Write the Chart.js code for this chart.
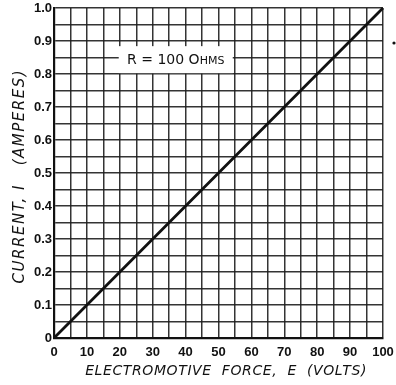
<!DOCTYPE html>
<html>
<head>
<meta charset="utf-8">
<script src="https://cdn.jsdelivr.net/npm/chart.js@4/dist/chart.umd.min.js"></script>
<style>
  html, body { margin: 0; padding: 0; background: #fff; }
  #wrap { width: 396px; height: 385px; }
</style>
</head>
<body>
<div id="wrap"><canvas id="c" width="396" height="385"></canvas></div>
<script>
// Ohm's law: current through a 100-ohm resistor versus applied EMF
const voltsE = [0, 10, 20, 30, 40, 50, 60, 70, 80, 90, 100];
const ampsI  = [0, 0.1, 0.2, 0.3, 0.4, 0.5, 0.6, 0.7, 0.8, 0.9, 1.0];
const xTickLabels = ['0', '10', '20', '30', '40', '50', '60', '70', '80', '90', '100'];
const yTickLabels = ['0', '0.1', '0.2', '0.3', '0.4', '0.5', '0.6', '0.7', '0.8', '0.9', '1.0'];
const resistanceNote = { main: 'R = 100 O', small: 'HMS', atVolts: 37, atAmps: 0.845 };

const ink = '#111';
const gridInk = 'rgba(30,30,30,0.9)';
const tickFont = { family: 'Liberation Sans', weight: 'bold', size: 13 };

// draw an axis title with hand-lettered spacing between the characters
function spacedTitle(spacing) {
  return function (s) {
    if (s._spaced) return;
    s._spaced = true;
    const draw = s.drawTitle;
    s.drawTitle = function () {
      this.ctx.save();
      this.ctx.letterSpacing = spacing;
      draw.call(this);
      this.ctx.restore();
    };
  };
}

// white box with the resistance value, plus the stray dot by the top-right corner
const notePlugin = {
  id: 'note',
  afterDatasetsDraw(chart) {
    const { ctx, scales: { x, y } } = chart;
    const cx = x.getPixelForValue(resistanceNote.atVolts);
    const cy = y.getPixelForValue(resistanceNote.atAmps);
    ctx.save();
    ctx.fillStyle = '#fff';
    ctx.fillRect(cx - 57, cy - 13, 114, 27);
    ctx.fillStyle = ink;
    ctx.textBaseline = 'alphabetic';
    ctx.font = '14px "DejaVu Sans"';
    const w1 = ctx.measureText(resistanceNote.main).width;
    ctx.font = '11px "DejaVu Sans"';
    const w2 = ctx.measureText(resistanceNote.small).width;
    const sx = cx - (w1 + w2) / 2;
    ctx.font = '14px "DejaVu Sans"';
    ctx.fillText(resistanceNote.main, sx, cy + 5);
    ctx.font = '11px "DejaVu Sans"';
    ctx.fillText(resistanceNote.small, sx + w1, cy + 5);
    ctx.beginPath();
    ctx.arc(394, 43, 1.6, 0, Math.PI * 2);
    ctx.fill();
    ctx.restore();
  }
};

new Chart(document.getElementById('c'), {
  type: 'line',
  data: {
    datasets: [{
      data: voltsE.map((v, i) => ({ x: v, y: ampsI[i] })),
      borderColor: ink,
      borderWidth: 2.8,
      pointRadius: 0,
      tension: 0,
      clip: false
    }]
  },
  options: {
    responsive: false,
    animation: false,
    devicePixelRatio: 1,
    layout: { padding: { left: 0, top: 8, right: 13, bottom: 0 } },
    plugins: { legend: { display: false }, tooltip: { enabled: false } },
    scales: {
      x: {
        type: 'linear', min: 0, max: 100,
        afterFit(s) { s.height = 47; s.paddingLeft = 0; s.paddingRight = 0; },
        afterUpdate: spacedTitle('0.6px'),
        afterBuildTicks(s) {
          s.ticks = [];
          for (let k = 0; k <= 20; k++) s.ticks.push({ value: k * 5 });
        },
        grid: { color: gridInk, lineWidth: 1.5, drawTicks: false },
        border: { color: ink, width: 2.2 },
        ticks: {
          autoSkip: false, maxRotation: 0, padding: 7, color: ink, font: tickFont,
          callback: (v) => (v % 10 === 0 ? xTickLabels[v / 10] : '')
        },
        title: {
          display: true, text: '   ELECTROMOTIVE  FORCE,  E  (VOLTS)', color: ink,
          font: { family: 'DejaVu Sans', style: 'italic', size: 14 },
          padding: { top: 0, bottom: 5 }
        }
      },
      y: {
        type: 'linear', min: 0, max: 1,
        afterFit(s) { s.width = 54; s.paddingTop = 0; s.paddingBottom = 0; },
        afterUpdate: spacedTitle('1.5px'),
        afterBuildTicks(s) {
          s.ticks = [];
          for (let k = 0; k <= 20; k++) s.ticks.push({ value: k / 20 });
        },
        grid: { color: gridInk, lineWidth: 1.5, drawTicks: false },
        border: { color: ink, width: 2.2 },
        ticks: {
          autoSkip: false, padding: 2, color: ink, font: tickFont,
          callback: (v) => {
            const k = Math.round(v * 20);
            return k % 2 === 0 ? yTickLabels[k / 2] : '';
          }
        },
        title: {
          display: true, text: 'CURRENT, I   (AMPERES) ', color: ink,
          font: { family: 'DejaVu Sans', style: 'italic', size: 15 },
          padding: { top: 11, bottom: 0 }
        }
      }
    }
  },
  plugins: [notePlugin]
});
</script>
</body>
</html>
